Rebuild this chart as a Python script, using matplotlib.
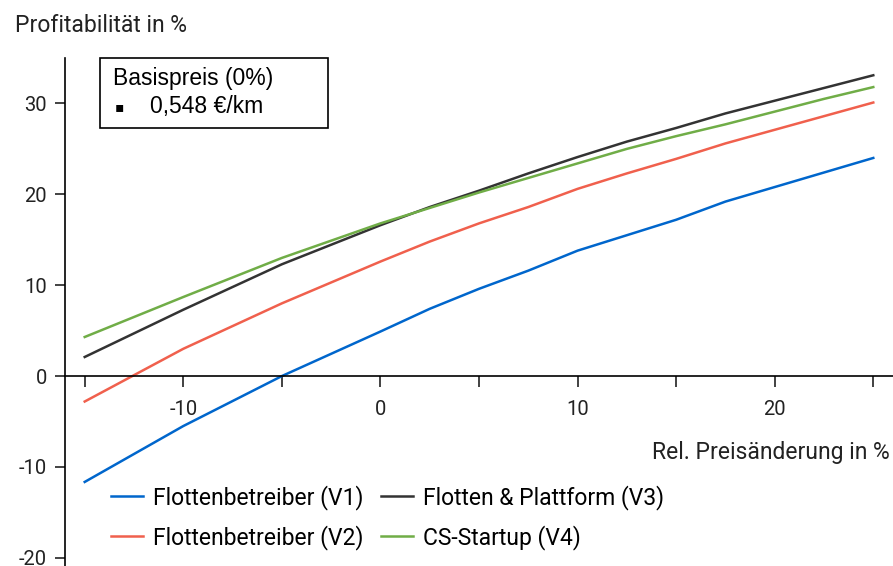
import matplotlib.pyplot as plt
from matplotlib.patches import Rectangle

# Rel. Preisänderung in %
preis = [-15, -10, -5, 0, 2.5, 5, 7.5, 10, 12.5, 15, 17.5, 20, 22.5, 25]

v1 = [-11.65, -5.5, 0.0, 4.9, 7.4, 9.6, 11.6, 13.8, 15.5, 17.2, 19.2, 20.8, 22.4, 24.0]
v2 = [-2.8, 3.0, 8.0, 12.6, 14.8, 16.8, 18.6, 20.6, 22.3, 23.9, 25.6, 27.1, 28.6, 30.1]
v3 = [2.1, 7.3, 12.3, 16.6, 18.6, 20.4, 22.3, 24.1, 25.8, 27.3, 28.9, 30.3, 31.7, 33.1]
v4 = [4.3, 8.7, 13.0, 16.8, 18.5, 20.2, 21.8, 23.4, 25.0, 26.4, 27.7, 29.1, 30.5, 31.8]

labels = ["Flottenbetreiber (V1)", "Flottenbetreiber (V2)",
          "Flotten & Plattform (V3)", "CS-Startup (V4)"]
farben = ["#0066cc", "#f0604d", "#333333", "#70ad47"]

plt.rcParams['font.family'] = ['Roboto', 'DejaVu Sans']
plt.rcParams['axes.unicode_minus'] = False

fig = plt.figure(figsize=(8.93, 5.66), dpi=100)
ax = fig.add_axes([65/893, 0, 1 - 65/893, 508/566])

for y, lab, c in zip([v1, v2, v3, v4], labels, farben):
    ax.plot(preis, y, color=c, lw=1.8, label=lab)

ax.set_xlim(-16, 26)
ax.set_ylim(-20.9, 35)
ax.spines['top'].set_visible(False)
ax.spines['right'].set_visible(False)
ax.spines['bottom'].set_position(('data', 0))
ax.spines['left'].set_linewidth(1.2)
ax.spines['bottom'].set_linewidth(1.2)

ax.set_xticks([-15, -5, 5, 15, 25], minor=True)
ax.set_xticks([-10, 0, 10, 20])
ax.tick_params(axis='x', which='both', direction='out', length=8, width=1.2,
               labelsize=14.5, pad=9, colors='#222222')
ax.set_yticks([-20, -10, 0, 10, 20, 30])
ax.tick_params(axis='y', direction='out', length=7, width=1.2, labelsize=14.5,
               pad=6, colors='#222222')

fig.text(15/893, 1 - 25/566, "Profitabilität in %", fontsize=16.5,
         va='center', ha='left', color='#222222')
fig.text(890/893, 1 - 453/566, "Rel. Preisänderung in %", fontsize=16.5,
         va='center', ha='right', color='#222222')

h, l = ax.get_legend_handles_labels()
fig.legend(h, l, ncol=2, frameon=False, fontsize=16.5, loc='upper left',
           bbox_to_anchor=(111/893, 1 - 485/566), handlelength=1.4,
           handletextpad=0.45, columnspacing=0.75, labelspacing=0.65,
           borderaxespad=0, borderpad=0)

# Basispreis box
fig.add_artist(Rectangle((100/893, 1 - 128/566), 228/893, 70/566,
                         transform=fig.transFigure, fill=False,
                         edgecolor='black', lw=1.2))
fig.text(113/893, 1 - 78/566, "Basispreis (0%)", fontsize=16.5,
         family=['Liberation Sans', 'DejaVu Sans'], va='center', ha='left')
fig.text(115/893, 1 - 107/566, "▪", fontsize=10,
         family=['DejaVu Sans'], va='center', ha='left')
fig.text(150/893, 1 - 107/566, "0,548 €/km", fontsize=16.5,
         family=['Liberation Sans', 'DejaVu Sans'], va='center', ha='left')

fig.savefig("out.png", dpi=100)
